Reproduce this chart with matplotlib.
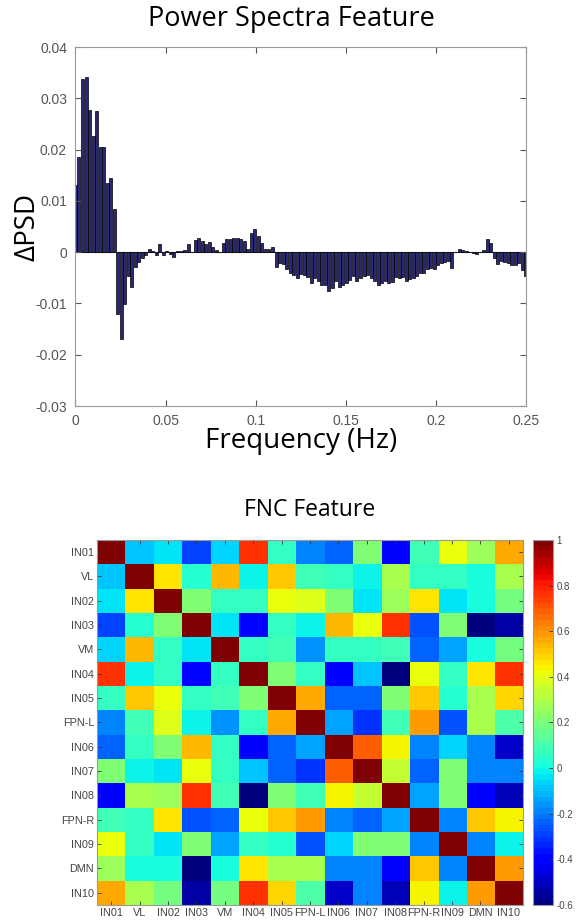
import numpy as np
import matplotlib
matplotlib.use("Agg")
import matplotlib.pyplot as plt

# ---- power spectra feature: delta PSD per frequency bin (0 .. 0.25 Hz) ----
dpsd = [
    0.0130, 0.0185, 0.0337, 0.0342, 0.0278, 0.0227, 0.0275, 0.0205, 0.0206, 0.0134,
    0.0145, 0.0085,
    -0.0120, -0.0169, -0.0102, -0.0047, -0.0068, -0.0029, -0.0019, -0.0011, -0.0006,
    0.0006, 0.0002, -0.0006, 0.0015, -0.0006, 0.0003, -0.0003, -0.0010, 0.0002, 0.0003,
    0.0005, 0.0016, 0.0001, 0.0023, 0.0028, 0.0022, 0.0016, 0.0019, 0.0010, 0.0004,
    0.0001, 0.0017, 0.0025, 0.0025, 0.0028, 0.0028,
    0.0025, 0.0022, 0.0007, 0.0038, 0.0045, 0.0032, 0.0018, 0.0007, 0.0006, 0.0010,
    -0.0028, -0.0021, -0.0024, -0.0033, -0.0041, -0.0044, -0.0051, -0.0043, -0.0044,
    -0.0049, -0.0061, -0.0051, -0.0056, -0.0064, -0.0065, -0.0076, -0.0070, -0.0057,
    -0.0068, -0.0064, -0.0061, -0.0054, -0.0047, -0.0056, -0.0051, -0.0047, -0.0044,
    -0.0051, -0.0057, -0.0064, -0.0060, -0.0057, -0.0060,
    -0.0058, -0.0048, -0.0051, -0.0048, -0.0057, -0.0053, -0.0050, -0.0046, -0.0040,
    -0.0041, -0.0033, -0.0030, -0.0032, -0.0026, -0.0022, -0.0020, -0.0017, -0.0030,
    0.0000, 0.0007, 0.0005, 0.0003, 0.0000, -0.0002, -0.0003, 0.0001, 0.0005, 0.0026,
    0.0018, -0.0011, -0.0024, -0.0018, -0.0020, -0.0022, -0.0025, -0.0026, -0.0022,
    -0.0035, -0.0046,
]
freq_max = 0.25
freqs = np.linspace(0, freq_max, len(dpsd))  # bin centres

# ---- FNC feature: network-by-network matrix ----
networks = ["IN01", "VL", "IN02", "IN03", "VM", "IN04", "IN05", "FPN-L",
            "IN06", "IN07", "IN08", "FPN-R", "IN09", "DMN", "IN10"]
fnc = np.array([
    [1.00, -0.08, -0.03, -0.28, -0.07, 0.75, 0.07, -0.18, -0.23, 0.20, -0.40, 0.10, 0.42, 0.25, 0.57],
    [-0.08, 1.00, 0.46, 0.03, 0.55, -0.02, 0.50, 0.09, 0.06, 0.00, 0.30, 0.06, 0.07, 0.02, 0.28],
    [-0.03, 0.46, 1.00, 0.22, 0.07, 0.07, 0.40, 0.38, 0.20, -0.03, 0.25, 0.46, -0.03, 0.02, 0.18],
    [-0.28, 0.03, 0.22, 1.00, -0.03, -0.38, 0.05, 0.00, 0.53, 0.40, 0.75, -0.25, 0.20, -0.60, -0.53],
    [-0.07, 0.55, 0.07, -0.03, 1.00, 0.05, 0.10, -0.16, 0.05, 0.05, 0.10, -0.24, -0.13, 0.02, 0.18],
    [0.75, -0.02, 0.07, -0.38, 0.05, 1.00, 0.22, 0.07, -0.42, -0.08, -0.58, 0.40, 0.07, 0.46, 0.77],
    [0.07, 0.50, 0.40, 0.05, 0.10, 0.22, 1.00, 0.56, -0.23, -0.23, 0.22, 0.50, 0.03, 0.28, 0.48],
    [-0.18, 0.09, 0.38, 0.00, -0.16, 0.07, 0.56, 1.00, -0.14, -0.30, 0.09, 0.60, -0.25, 0.28, 0.12],
    [-0.23, 0.06, 0.20, 0.53, 0.05, -0.42, -0.23, -0.14, 1.00, 0.70, 0.43, -0.18, -0.06, -0.19, -0.48],
    [0.20, 0.00, -0.03, 0.40, 0.05, -0.08, -0.23, -0.30, 0.70, 1.00, 0.35, -0.24, 0.20, -0.18, -0.19],
    [-0.40, 0.30, 0.25, 0.75, 0.10, -0.58, 0.22, 0.09, 0.43, 0.35, 1.00, -0.14, 0.20, -0.42, -0.50],
    [0.10, 0.06, 0.46, -0.25, -0.24, 0.40, 0.50, 0.60, -0.18, -0.24, -0.14, 1.00, -0.19, 0.52, 0.43],
    [0.42, 0.07, -0.03, 0.20, -0.13, 0.07, 0.03, -0.25, -0.06, 0.20, 0.20, -0.19, 1.00, -0.19, -0.02],
    [0.25, 0.02, 0.02, -0.60, 0.02, 0.46, 0.28, 0.28, -0.19, -0.18, -0.42, 0.52, -0.19, 1.00, 0.60],
    [0.57, 0.28, 0.18, -0.53, 0.18, 0.77, 0.48, 0.12, -0.48, -0.19, -0.50, 0.43, -0.02, 0.60, 1.00],
])
cbar_ticks = [-0.6, -0.4, -0.2, 0, 0.2, 0.4, 0.6, 0.8, 1]

TICKFONT = "Liberation Sans"
HEADFONT = "Open Sans"
SPINE = "#9a9a9a"

fig = plt.figure(figsize=(5.76, 9.24), dpi=100)

# ---------------- top: power spectra bars ----------------
ax1 = fig.add_axes([0.131, 0.5606, 0.782, 0.3885])
step = freq_max / (len(dpsd) - 1)
ax1.bar(freqs, dpsd, width=0.85 * step, color="#2a2872", edgecolor="black", linewidth=0.5)
ax1.axhline(0, color="#444444", lw=0.8, zorder=0)
ax1.set_xlim(0, 0.25)
ax1.set_ylim(-0.03, 0.04)
ax1.set_xticks([0, 0.05, 0.1, 0.15, 0.2, 0.25])
ax1.set_xticklabels(["0", "0.05", "0.1", "0.15", "0.2", "0.25"])
ax1.set_yticks([-0.03, -0.02, -0.01, 0, 0.01, 0.02, 0.03, 0.04])
ax1.set_yticklabels(["-0.03", "-0.02", "-0.01", "0", "0.01", "0.02", "0.03", "0.04"])
ax1.tick_params(direction="in", top=True, right=True, length=4, width=0.8,
                color="#555555", labelsize=10, labelcolor="#555555", pad=6)
for lab in ax1.get_xticklabels() + ax1.get_yticklabels():
    lab.set_family(TICKFONT)
for s in ax1.spines.values():
    s.set_color(SPINE)
ax1.set_xlabel("Frequency (Hz)", fontsize=20, family=HEADFONT, labelpad=-1)
ax1.set_ylabel("\u0394PSD", fontsize=20, family=HEADFONT)
ax1.yaxis.set_label_coords(-0.076, 0.5)
fig.text(291 / 576, 1 - 19 / 924, "Power Spectra Feature", fontsize=19.5, family=HEADFONT,
         ha="center", va="center")

# ---------------- bottom: FNC heatmap ----------------
ax2 = fig.add_axes([0.1684, 0.0206, 0.7396, 0.395])
cmap = plt.get_cmap("jet", 64)
im = ax2.imshow(fnc, cmap=cmap, vmin=-0.6, vmax=1, aspect="auto", interpolation="nearest")
n = len(networks)
ax2.set_xticks(range(n))
ax2.set_yticks(range(n))
ax2.set_xticklabels(networks)
ax2.set_yticklabels(networks)
ax2.tick_params(direction="in", top=True, right=True, length=3, width=0.6,
                color="#333333", labelsize=7.8, labelcolor="#444444", pad=2)
for lab in ax2.get_xticklabels() + ax2.get_yticklabels():
    lab.set_family(TICKFONT)
for s in ax2.spines.values():
    s.set_color(SPINE)
ax2.set_title("FNC Feature", fontsize=16.5, family=HEADFONT, pad=17)

cax = fig.add_axes([0.925, 0.0206, 0.0358, 0.395])
cb = fig.colorbar(im, cax=cax, ticks=cbar_ticks)
cb.ax.set_yticklabels(["-0.6", "-0.4", "-0.2", "0", "0.2", "0.4", "0.6", "0.8", "1"])
cb.ax.tick_params(direction="in", length=3, width=0.6, color="#333333",
                  labelsize=7, labelcolor="#444444", pad=2)
for lab in cb.ax.get_yticklabels():
    lab.set_family(TICKFONT)
cb.outline.set_edgecolor(SPINE)

fig.savefig("out.png", dpi=100)
